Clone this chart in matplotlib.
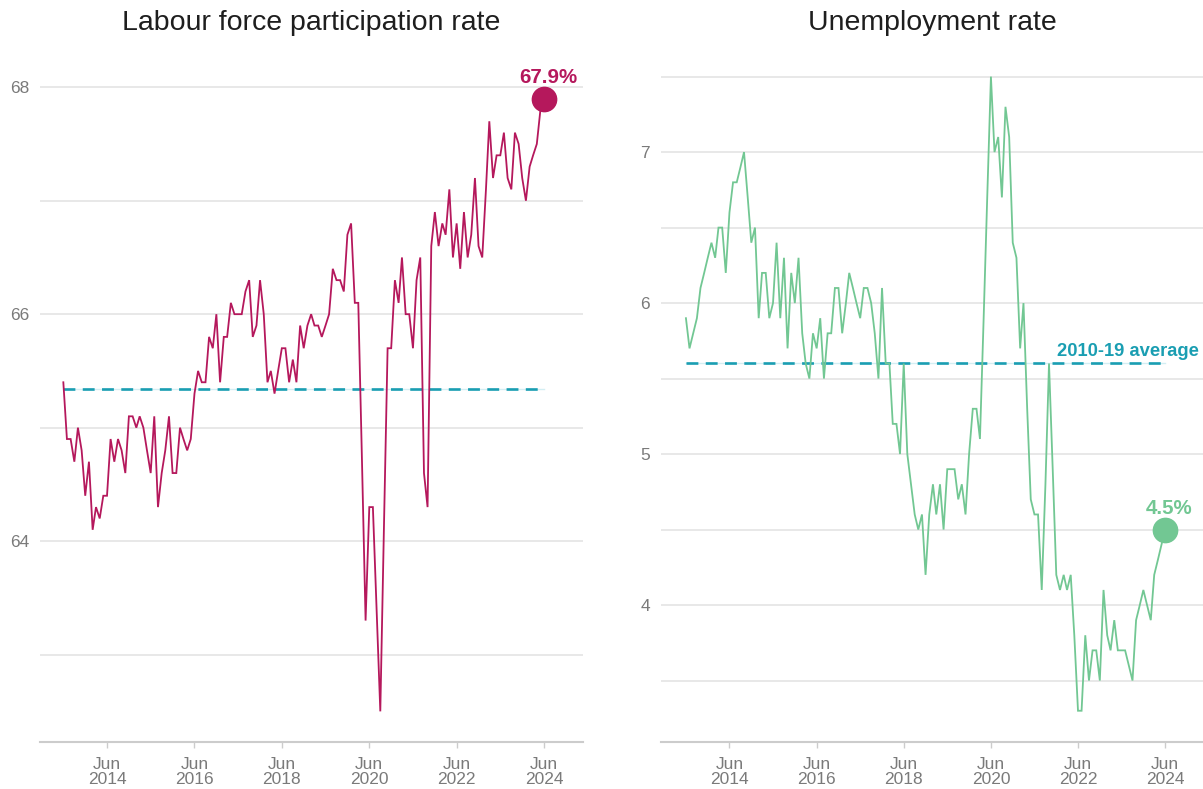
import matplotlib
matplotlib.use('Agg')
import matplotlib.pyplot as plt
import pandas as pd

plt.rcParams['font.family'] = ['Liberation Sans', 'DejaVu Sans']

# ---------------- data ----------------
start_month = '2013-06-01'

participation = [
    65.4, 64.9, 64.9, 64.7, 65.0, 64.8, 64.4, 64.7, 64.1, 64.3, 64.2, 64.4, 64.4, 64.9, 64.7, 64.9,
    64.8, 64.6, 65.1, 65.1, 65.0, 65.1, 65.0, 64.8, 64.6, 65.1, 64.3, 64.6, 64.8, 65.1, 64.6, 64.6,
    65.0, 64.9,
    64.8, 64.9, 65.3, 65.5, 65.4, 65.4, 65.8, 65.7, 66.0, 65.4, 65.8, 65.8, 66.1, 66.0, 66.0, 66.0,
    66.2, 66.3, 65.8, 65.9, 66.3, 66.0, 65.4, 65.5, 65.3, 65.5, 65.7, 65.7, 65.4, 65.6, 65.4, 65.9,
    65.7, 65.9, 66.0, 65.9, 65.9, 65.8, 65.9, 66.0, 66.4, 66.3, 66.3, 66.2, 66.7, 66.8, 66.1, 66.1,
    64.7, 63.3, 64.3, 64.3, 63.4, 62.5, 64.1, 65.7, 65.7, 66.3, 66.1, 66.5, 66.0, 66.0, 65.7, 66.3,
    66.5, 64.6, 64.3, 66.6,
    66.9, 66.6, 66.8, 66.7, 67.1, 66.5, 66.8, 66.4, 66.9, 66.5, 66.7, 67.2, 66.6, 66.5, 67.1, 67.7,
    67.2, 67.4, 67.4, 67.6, 67.2, 67.1, 67.6, 67.5, 67.2, 67.0, 67.3, 67.4, 67.5, 67.8, 67.9,
]

unemployment = [
    5.9, 5.7, 5.8, 5.9, 6.1, 6.2, 6.3, 6.4, 6.3, 6.5, 6.5, 6.2, 6.6, 6.8, 6.8, 6.9, 7.0, 6.7, 6.4, 6.5,
    5.9, 6.2, 6.2, 5.9, 6.0, 6.4, 5.9, 6.3, 5.7, 6.2, 6.0, 6.3, 5.8, 5.6, 5.5, 5.8, 5.7, 5.9, 5.5, 5.8,
    5.8, 6.1, 6.1, 5.8,
    6.0, 6.2, 6.1, 6.0, 5.9, 6.1, 6.1, 6.0, 5.8, 5.5, 6.1, 5.6, 5.6, 5.2, 5.2, 5.0, 5.6, 5.0, 4.8, 4.6,
    4.5, 4.6, 4.2,
    4.6, 4.8, 4.6, 4.8, 4.5, 4.9, 4.9, 4.9, 4.7, 4.8, 4.6, 5.0, 5.3, 5.3, 5.1, 5.9, 6.7,
    7.5, 7.0, 7.1, 6.7, 7.3, 7.1, 6.4, 6.3, 5.7, 6.0, 5.3, 4.7, 4.6, 4.6, 4.1, 4.8, 5.6, 4.9,
    4.2, 4.1, 4.2, 4.1, 4.2, 3.8, 3.3, 3.3, 3.8, 3.5, 3.7, 3.7, 3.5, 4.1, 3.8, 3.7, 3.9, 3.7, 3.7, 3.7,
    3.6, 3.5, 3.9, 4.0, 4.1, 4.0, 3.9, 4.2, 4.3, 4.4, 4.5,
]

participation_avg = 65.34
unemployment_avg = 5.6

tick_years = [2014, 2016, 2018, 2020, 2022, 2024]
titles = ['Labour force participation rate', 'Unemployment rate']
avg_label = '2010-19 average'

# ---------------- style ----------------
c_part = '#B5185C'
c_unemp = '#72C793'
c_avg = '#1A9EB2'
c_avg_halo = '#D3EEF3'
c_grid = '#E6E6E6'
c_axis = '#CCCCCC'
c_tick = '#7A7A7A'

dates = pd.date_range(start_month, periods=len(participation), freq='MS')
tick_dates = [pd.Timestamp(f'{y}-06-01') for y in tick_years]
tick_labels = [f'Jun\n{y}' for y in tick_years]

W, H = 1203, 789
fig = plt.figure(figsize=(W / 100, H / 100), dpi=100)
ax1 = fig.add_axes([40 / W, 1 - 742 / H, (583 - 40) / W, (742 - 60) / H])
ax2 = fig.add_axes([661 / W, 1 - 742 / H, (1203 - 661) / W, (742 - 60) / H])


def style(ax, major, minor, ylim, xlim):
    ax.set_ylim(*ylim)
    ax.set_xlim(*xlim)
    ax.set_yticks(major)
    ax.set_yticks(minor, minor=True)
    ax.set_yticklabels([f'{v:g}' for v in major])
    ax.grid(which='both', axis='y', color=c_grid, lw=1.3, zorder=0)
    ax.set_axisbelow(True)
    for s in ['left', 'right', 'top']:
        ax.spines[s].set_visible(False)
    ax.spines['bottom'].set_color(c_axis)
    ax.spines['bottom'].set_linewidth(1.5)
    ax.tick_params(axis='y', which='both', length=0, labelsize=12.5, labelcolor=c_tick, pad=8)
    ax.set_xticks(tick_dates)
    ax.set_xticklabels(tick_labels, linespacing=1.0)
    ax.tick_params(axis='x', length=4, width=1, color=c_axis, labelsize=12.5,
                   labelcolor=c_tick, pad=7)


day = pd.Timedelta(days=1)
style(ax1, [64, 66, 68], [63, 65, 67], (62.23, 68.24),
      (dates[0] - 195 * day, dates[-1] + 325 * day))
style(ax2, [4, 5, 6, 7], [3.5, 4.5, 5.5, 6.5, 7.5], (3.093, 7.61),
      (dates[0] - 209 * day, dates[-1] + 317 * day))

for ax, vals, avg, col in [(ax1, participation, participation_avg, c_part),
                           (ax2, unemployment, unemployment_avg, c_unemp)]:
    ax.plot([dates[0], dates[-1]], [avg, avg], color=c_avg_halo, lw=1.0, zorder=2)
    ax.plot([dates[0], dates[-1]], [avg, avg], color=c_avg, lw=1.9,
            dashes=(4.5, 2.8), zorder=2)
    ax.plot(dates, vals, color=col, lw=1.3, zorder=3, solid_joinstyle='miter')
    ax.plot([dates[-1]], [vals[-1]], 'o', ms=17.5, color=col, zorder=4, clip_on=False)
    ax.annotate(f'{vals[-1]:.1f}%', xy=(dates[-1], vals[-1]), xytext=(3, 11),
                textcoords='offset points', ha='center', va='baseline',
                fontsize=14.8, fontweight='bold', color=col, annotation_clip=False)

ax2.annotate(avg_label, xy=(1.0, unemployment_avg), xycoords=('axes fraction', 'data'),
             xytext=(-3, 5.5), textcoords='offset points', ha='right', va='baseline',
             fontsize=13.2, fontweight='bold', color=c_avg)

for ax, t in zip([ax1, ax2], titles):
    pos = ax.get_position()
    fig.text((pos.x0 + pos.x1) / 2, 1 - 23 / H, t, ha='center', va='center',
             fontsize=20.5, color='#1E1E1E')

fig.savefig('out.png', dpi=100, facecolor='white')
